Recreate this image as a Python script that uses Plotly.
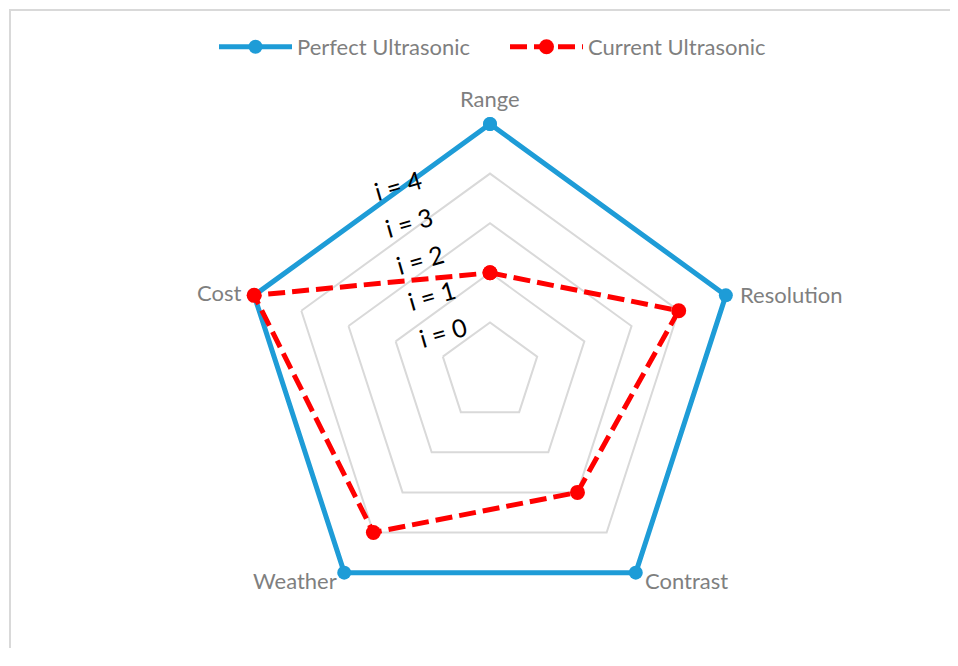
import math

import plotly.graph_objects as go

# Radar data (values on the i-scale, centre = -1)
categories = ["Range", "Resolution", "Contrast", "Weather", "Cost"]
perfect = [4, 4, 4, 4, 4]
current = [1, 3, 2, 3, 4]
ring_values = [0, 1, 2, 3, 4]
ring_labels = ["i = 0", "i = 1", "i = 2", "i = 3", "i = 4"]

# page body has an 8px margin; keep the figure a bit short so no scrollbar shows
W, H = 942, 640
CX, CY = 482, 364          # polar centre in px (from top-left of figure)
RING = 49.6                # px per unit on the radial axis
R_MIN, R_MAX = -1, 4.1     # a bit past the outer ring so the blue line isn't clipped
RADIUS = RING * (R_MAX - R_MIN)

BLUE = "#1E9CD7"
RED = "#FF0000"
GREY_TXT = "#7F7F7F"
GRID = "#D9D9D9"
FONT = "Lato"

# Excel puts the category names beside each outer vertex
CAT_LABEL_STYLE = {
    "Range": dict(xanchor="center", xshift=0, yshift=26),
    "Resolution": dict(xanchor="left", xshift=12, yshift=1),
    "Contrast": dict(xanchor="left", xshift=7, yshift=-8),
    "Weather": dict(xanchor="right", xshift=-5, yshift=-8),
    "Cost": dict(xanchor="right", xshift=-11, yshift=3),
}


def closed(vals):
    return list(vals) + [vals[0]]


def polar_to_paper(r, idx):
    ang = math.radians(90 - 360 / len(categories) * idx)
    rad = (r - R_MIN) * RING
    return (CX + rad * math.cos(ang)) / W, (H - CY + rad * math.sin(ang)) / H


fig = go.Figure()
fig.add_trace(
    go.Scatterpolar(
        r=closed(perfect),
        theta=closed(categories),
        mode="lines+markers",
        name="Perfect Ultrasonic",
        line=dict(color=BLUE, width=5),
        marker=dict(size=14, color=BLUE),
    )
)
fig.add_trace(
    go.Scatterpolar(
        r=closed(current),
        theta=closed(categories),
        mode="lines+markers",
        name="Current Ultrasonic",
        line=dict(color=RED, width=5, dash="17px,7px"),
        marker=dict(size=15, color=RED),
    )
)

for j, cat in enumerate(categories):
    px, py = polar_to_paper(perfect[j], j)
    fig.add_annotation(
        text=cat,
        xref="paper",
        yref="paper",
        x=px,
        y=py,
        yanchor="middle",
        showarrow=False,
        font=dict(family=FONT, size=22, color=GREY_TXT),
        **CAT_LABEL_STYLE[cat],
    )

# ring labels sit in a slanted column left of the Range spoke
for k, lab in enumerate(ring_labels):
    u = -0.948 - 0.227 * k
    v = 0.806 + 0.740 * k
    fig.add_annotation(
        text=lab,
        xref="paper",
        yref="paper",
        x=(CX + u * RING) / W,
        y=(H - CY + v * RING) / H,
        xanchor="center",
        yanchor="middle",
        showarrow=False,
        textangle=-16,
        font=dict(family=FONT, size=25, color="black"),
    )

# light chart-area border: one open path along the top and left edges
fig.add_shape(
    type="path",
    xref="paper",
    yref="paper",
    path=f"M 1.2 {(H - 2) / H} L {2 / W} {(H - 2) / H} L {2 / W} -0.2",
    line=dict(color=GRID, width=2),
)

fig.update_layout(
    width=W,
    height=H,
    margin=dict(l=0, r=0, t=0, b=0),
    paper_bgcolor="white",
    font=dict(family=FONT, color=GREY_TXT, size=22),
    showlegend=True,
    legend=dict(
        orientation="h",
        x=206 / W,
        xanchor="left",
        y=1 - 39 / H,
        yanchor="middle",
        font=dict(family=FONT, size=22, color=GREY_TXT),
        itemwidth=73,
        entrywidth=203,
        entrywidthmode="pixels",
    ),
    polar=dict(
        domain=dict(
            x=[(CX - RADIUS) / W, (CX + RADIUS) / W],
            y=[(H - CY - RADIUS) / H, (H - CY + RADIUS) / H],
        ),
        bgcolor="white",
        gridshape="linear",
        radialaxis=dict(
            range=[R_MIN, R_MAX],
            tickvals=ring_values,
            showticklabels=False,
            showline=False,
            ticks="",
            gridcolor=GRID,
            gridwidth=1.5,
        ),
        angularaxis=dict(
            direction="clockwise",
            rotation=90,
            showgrid=False,
            showline=False,
            showticklabels=False,
            ticks="",
        ),
    ),
)

fig.write_html("out.html")
